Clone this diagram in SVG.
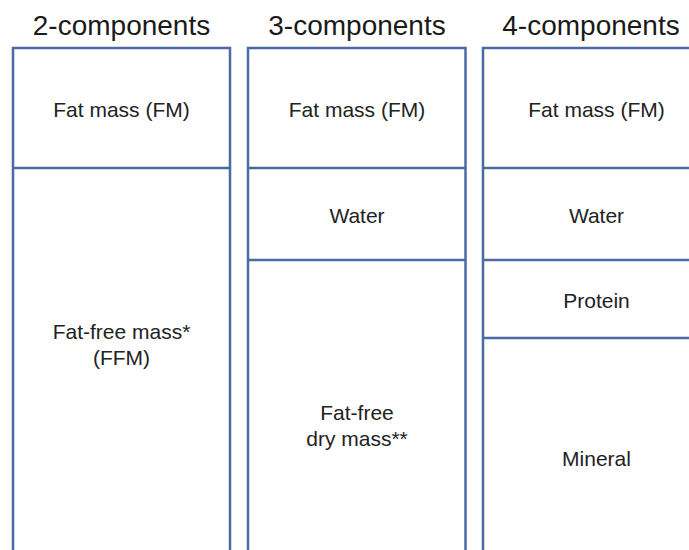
<svg xmlns="http://www.w3.org/2000/svg" width="689" height="550" viewBox="0 0 689 550">
<style>
.box{fill:#ffffff;stroke:#4a6aa3;stroke-width:2.5}
.div{stroke:#4a6aa3;stroke-width:2.5}
.hd{font-family:"Liberation Sans",Arial,sans-serif;font-size:28px;fill:#1a1a1a;text-anchor:middle}
.lb{font-family:"Liberation Sans",Arial,sans-serif;font-size:21px;fill:#222222;text-anchor:middle}
</style>
<rect x="0" y="0" width="689" height="550" fill="#ffffff"/>
<g id="col2comp">
<text class="hd" x="121.5" y="35">2-components</text>
<rect class="box" x="13" y="48" width="217" height="520"/>
<line class="div" x1="13" y1="168" x2="230" y2="168"/>
<g id="c2-fm"><text class="lb" x="121.5" y="117">Fat mass (FM)</text></g>
<g id="c2-ffm"><text class="lb" x="121.5" y="339">Fat-free mass*</text><text class="lb" x="121.5" y="365">(FFM)</text></g>
</g>
<g id="col3comp">
<text class="hd" x="357" y="35">3-components</text>
<rect class="box" x="248" y="48" width="217.5" height="520"/>
<line class="div" x1="248" y1="168" x2="465.5" y2="168"/>
<line class="div" x1="248" y1="260" x2="465.5" y2="260"/>
<g id="c3-fm"><text class="lb" x="357" y="117">Fat mass (FM)</text></g>
<g id="c3-water"><text class="lb" x="357" y="223">Water</text></g>
<g id="c3-ffdm"><text class="lb" x="357" y="420">Fat-free</text><text class="lb" x="357" y="446">dry mass**</text></g>
</g>
<g id="col4comp">
<text class="hd" x="591" y="35">4-components</text>
<rect class="box" x="483" y="48" width="228" height="520"/>
<line class="div" x1="483" y1="168" x2="711" y2="168"/>
<line class="div" x1="483" y1="260" x2="711" y2="260"/>
<line class="div" x1="483" y1="338" x2="711" y2="338"/>
<g id="c4-fm"><text class="lb" x="596.5" y="117">Fat mass (FM)</text></g>
<g id="c4-water"><text class="lb" x="596.5" y="223">Water</text></g>
<g id="c4-protein"><text class="lb" x="596.5" y="308">Protein</text></g>
<g id="c4-mineral"><text class="lb" x="596.5" y="466">Mineral</text></g>
</g>
</svg>
